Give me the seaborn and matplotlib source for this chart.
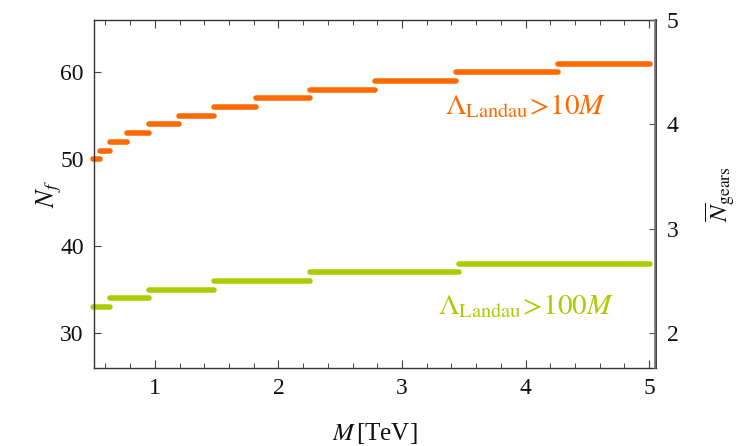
import numpy as np
import pandas as pd
import matplotlib
matplotlib.use("Agg")
import matplotlib.pyplot as plt
import seaborn as sns
from matplotlib.ticker import MultipleLocator

# ---- data ----
orange_nf = [50, 51, 52, 53, 54, 55, 56, 57, 58, 59, 60, 61]
orange_edges = [0.50, 0.553, 0.634, 0.774, 0.953, 1.195, 1.475, 1.815,
                2.256, 2.778, 3.44, 4.258, 5.01]
green_nf = [33, 34, 35, 36, 37, 38]
green_edges = [0.50, 0.634, 0.953, 1.475, 2.256, 3.46, 5.01]

orange_label = r"$\Lambda_{\mathrm{Landau}}\!>\!10M$"
green_label = r"$\Lambda_{\mathrm{Landau}}\!>\!100M$"
x_ticks = [1, 2, 3, 4, 5]
y_ticks = [30, 40, 50, 60]
y2_ticks = [2, 3, 4, 5]

ORANGE = "#FF6A00"
GREEN = "#AACC00"


def segments(nf, edges, name):
    rows = []
    for i, n in enumerate(nf):
        rows.append({"M": edges[i], "Nf": n, "seg": f"{name}{i}"})
        rows.append({"M": edges[i + 1], "Nf": n, "seg": f"{name}{i}"})
    return pd.DataFrame(rows)


df_o = segments(orange_nf, orange_edges, "o")
df_g = segments(green_nf, green_edges, "g")

sns.set_theme(style="white")
plt.rcParams["font.family"] = ["Liberation Serif", "DejaVu Serif"]
plt.rcParams["mathtext.fontset"] = "stix"
plt.rcParams["text.color"] = "#111111"
plt.rcParams["axes.labelcolor"] = "#111111"
plt.rcParams["xtick.color"] = "#111111"
plt.rcParams["ytick.color"] = "#111111"

fig = plt.figure(figsize=(7.37, 4.46), dpi=100)
ax = fig.add_axes([93.5 / 737, 1 - 368 / 446, (655.5 - 93.5) / 737, (368 - 20) / 446])

for df, col in [(df_o, ORANGE), (df_g, GREEN)]:
    sns.lineplot(data=df, x="M", y="Nf", units="seg", estimator=None,
                 color=col, lw=4.0, solid_capstyle="round", ax=ax,
                 clip_on=False, legend=False)

ax.set_xlim(0.503, 5.051)
ax.set_ylim(26, 66)
ax.set_xticks(x_ticks)
ax.set_yticks(y_ticks)
ax.xaxis.set_minor_locator(MultipleLocator(0.2))

ax.tick_params(axis="x", which="both", direction="in", top=True, bottom=True,
               labelsize=17, pad=7, color="#444444")
ax.tick_params(axis="x", which="major", length=6, width=0.8)
ax.tick_params(axis="x", which="minor", length=3.5, width=0.7)
ax.tick_params(axis="y", which="major", direction="in", left=True, right=False,
               length=5, width=0.8, labelsize=17, pad=7, color="#444444")

ax.set_xlabel(r"$M\,$[TeV]", fontsize=18, labelpad=16)
ax.set_ylabel(r"$N_f$", fontsize=19, labelpad=-3)

for s in ["left", "bottom", "top"]:
    ax.spines[s].set_color("#333333")
    ax.spines[s].set_linewidth(1.0)

ax2 = ax.twinx()
ax2.set_ylim((26 - 6) / 12, (66 - 6) / 12)
ax2.set_yticks(y2_ticks)
ax2.tick_params(axis="y", direction="in", length=4, width=0.8, labelsize=17,
                pad=8, color="#555555")
ax2.spines["right"].set_color("#777777")
ax2.spines["right"].set_linewidth(1.2)
for s in ["left", "bottom", "top"]:
    ax2.spines[s].set_visible(False)
ax2.set_ylabel(r"$\overline{N}_{\mathrm{gears}}$", fontsize=18, labelpad=18,
               rotation=90)
ax2.grid(False)
ax.grid(False)

ax.text(4.0, 55.2, orange_label, color=ORANGE, fontsize=21, ha="center",
        va="baseline")
ax.text(4.0, 32.2, green_label, color=GREEN, fontsize=21, ha="center",
        va="baseline")

fig.savefig("out.png", dpi=100)
